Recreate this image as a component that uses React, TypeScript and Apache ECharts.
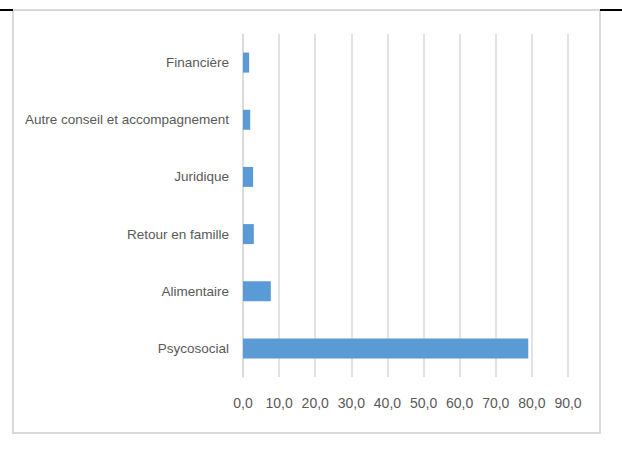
import React, { useEffect, useRef } from "react";
import * as echarts from "echarts";

const categories = [
  "Psycosocial",
  "Alimentaire",
  "Retour en famille",
  "Juridique",
  "Autre conseil et accompagnement",
  "Financière",
];
const values = [79.0, 7.7, 3.0, 2.8, 2.0, 1.7];

const FONT = "'Liberation Sans', Arial, sans-serif";

export default function App() {
  const ref = useRef<HTMLDivElement>(null);
  useEffect(() => {
    if (!ref.current) return;
    const chart = echarts.init(ref.current, undefined, { renderer: "svg" });
    chart.setOption({
      animation: false,
      backgroundColor: "#ffffff",
      grid: { left: 243, right: 54, top: 34, bottom: 79, containLabel: false },
      xAxis: {
        type: "value",
        min: 0,
        max: 90,
        interval: 10,
        axisLine: { show: false },
        axisTick: { show: false },
        splitLine: { show: true, lineStyle: { color: "#d9d9d9", width: 1.5 } },
        axisLabel: {
          color: "#595959",
          fontFamily: FONT,
          fontSize: 14,
          margin: 19,
          formatter: (v: number) => v.toFixed(1).replace(".", ","),
        },
      },
      yAxis: {
        type: "category",
        data: categories,
        axisLine: { show: true, lineStyle: { color: "#d9d9d9", width: 1.5 } },
        axisTick: { show: false },
        axisLabel: {
          color: "#595959",
          fontFamily: FONT,
          fontSize: 13.5,
          margin: 14,
        },
      },
      series: [
        {
          type: "bar",
          data: values,
          barWidth: 20,
          itemStyle: { color: "#5b9bd5" },
        },
      ],
      graphic: [
        {
          type: "rect",
          shape: { x: 13, y: 10, width: 587, height: 423 },
          style: { fill: "none", stroke: "#d9d9d9", lineWidth: 2 },
          silent: true,
        },
        {
          type: "line",
          shape: { x1: 0, y1: 10, x2: 13, y2: 10 },
          style: { stroke: "#000000", lineWidth: 2 },
        },
        {
          type: "line",
          shape: { x1: 600, y1: 10, x2: 622, y2: 10 },
          style: { stroke: "#000000", lineWidth: 2 },
        },
      ],
    });
    return () => chart.dispose();
  }, []);
  return (
    <div
      ref={ref}
      style={{ position: "absolute", left: 0, top: 0, width: 622, height: 456 }}
    />
  );
}
